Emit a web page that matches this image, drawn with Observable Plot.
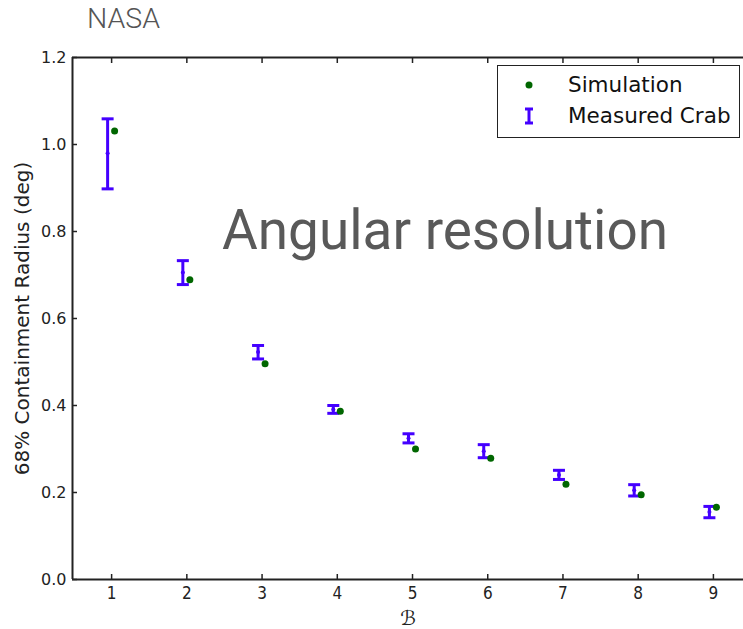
<!DOCTYPE html>
<html>
<head>
<meta charset="utf-8">
<script src="https://cdn.jsdelivr.net/npm/d3@7"></script>
<script src="https://cdn.jsdelivr.net/npm/@observablehq/plot@0.6"></script>
<style>
  body { margin: 0; background: #fff; }
  #wrap { position: relative; width: 743px; height: 629px; overflow: hidden; }
  #title { position: absolute; left: 87px; top: 2px; font-family: Roboto, "Open Sans", sans-serif; font-weight: 300; font-size: 28.5px; color: #555; }
  #chart { position: absolute; left: 0; top: 40px; }
  #big { position: absolute; left: 222px; top: 202px; font-family: Roboto, "Open Sans", sans-serif; font-size: 56px; color: #595959; white-space: nowrap; transform-origin: left top; line-height: 1; }
  #legend { position: absolute; left: 497px; top: 65px; width: 241px; height: 71px; border: 1.5px solid #222; background: #fff; font-family: "DejaVu Sans", sans-serif; font-size: 21.5px; color: #111; }
  #legend .row { position: absolute; left: 70px; }
  #legend svg { position: absolute; left: 0; top: 0; }
</style>
</head>
<body>
<div id="wrap">
  <div id="title">NASA</div>
  <div id="chart"></div>
  <div id="big">Angular resolution</div>
  <div id="legend">
    <svg width="60" height="71">
      <circle cx="31" cy="19" r="3.5" fill="#006600"></circle>
      <line x1="31" y1="43" x2="31" y2="57" stroke="#4400ff" stroke-width="3"></line>
      <line x1="27" y1="43" x2="35" y2="43" stroke="#4400ff" stroke-width="3"></line>
      <line x1="27" y1="57" x2="35" y2="57" stroke="#4400ff" stroke-width="3"></line>
    </svg>
    <div class="row" style="top:6px">Simulation</div>
    <div class="row" style="top:37px">Measured Crab</div>
  </div>
</div>
<script>
const bins = [1, 2, 3, 4, 5, 6, 7, 8, 9];
const measured = [0.980, 0.706, 0.523, 0.391, 0.325, 0.295, 0.240, 0.205, 0.155];
const measuredLow = [0.898, 0.678, 0.507, 0.382, 0.314, 0.280, 0.230, 0.192, 0.142];
const measuredHigh = [1.059, 0.733, 0.538, 0.400, 0.335, 0.310, 0.251, 0.218, 0.168];
const simulation = [1.031, 0.689, 0.496, 0.387, 0.300, 0.279, 0.219, 0.195, 0.166];
const yTicks = [0.0, 0.2, 0.4, 0.6, 0.8, 1.0, 1.2];
const xTicks = [1, 2, 3, 4, 5, 6, 7, 8, 9];
const yLabel = "68% Containment Radius (deg)";
const xLabel = "ℬ";

const rows = bins.map((b, i) => ({
  b, m: measured[i], lo: measuredLow[i], hi: measuredHigh[i], s: simulation[i]
}));

const blue = "#4400ff";
const green = "#006600";
const capSymbol = {
  draw(ctx, size) {
    const r = Math.sqrt(size / Math.PI);
    ctx.moveTo(-r, 0);
    ctx.lineTo(r, 0);
  }
};

const chart = Plot.plot({
  width: 743,
  height: 589,
  marginLeft: 72,
  marginRight: 0,
  marginTop: 17,
  marginBottom: 50,
  style: { fontFamily: "DejaVu Sans, sans-serif", color: "#222", background: "#fff" },
  x: { domain: [0.48, 9.4] },
  y: { domain: [0, 1.2] },
  marks: [
    Plot.axisY(yTicks, {
      anchor: "left", tickSize: -5, tickPadding: 11, tickFormat: d3.format(".1f"),
      fontSize: 16, stroke: "#222", strokeWidth: 1.5,
      label: yLabel, labelAnchor: "center", labelOffset: 58, labelArrow: "none"
    }),
    Plot.axisX(xTicks, {
      anchor: "bottom", tickSize: -5, tickPadding: 12, tickFormat: d3.format("d"),
      fontSize: 16, stroke: "#222", strokeWidth: 1.5,
      label: xLabel, labelAnchor: "center", labelOffset: 45, labelArrow: "none"
    }),
    Plot.axisX(xTicks, {
      anchor: "top", tickSize: -5, tickFormat: () => "", label: null, stroke: "#222", strokeWidth: 1.5
    }),
    Plot.ruleY([0, 1.2], { stroke: "#222", strokeWidth: 2 }),
    Plot.ruleX([0.48], { stroke: "#222", strokeWidth: 2 }),
    Plot.ruleX(rows, { x: "b", y1: "lo", y2: "hi", dx: -4, stroke: blue, strokeWidth: 3 }),
    Plot.dot(rows, { x: "b", y: "lo", dx: -4, symbol: capSymbol, r: 6, stroke: blue, strokeWidth: 3, fill: "none" }),
    Plot.dot(rows, { x: "b", y: "hi", dx: -4, symbol: capSymbol, r: 6, stroke: blue, strokeWidth: 3, fill: "none" }),
    Plot.dot(rows, { x: "b", y: "m", dx: -4, r: 2, fill: blue }),
    Plot.dot(rows, { x: "b", y: "s", dx: 3, r: 3.5, fill: green })
  ]
});
document.getElementById("chart").appendChild(chart);

// style axis labels
d3.select(chart).selectAll("g[aria-label='x-axis label']")
  .style("font-size", "20px").style("font-style", "italic");
d3.select(chart).selectAll("g[aria-label='y-axis label']").style("font-size", "20px");
d3.select(chart).selectAll("g[aria-label='x-axis tick label']").style("font-family", "'DejaVu Sans Condensed', 'DejaVu Sans', sans-serif").style("font-size", "17px");

// fit big text width
const big = document.getElementById("big");
const w = big.getBoundingClientRect().width;
big.style.transform = `scaleX(${446 / w})`;
</script>
</body>
</html>
